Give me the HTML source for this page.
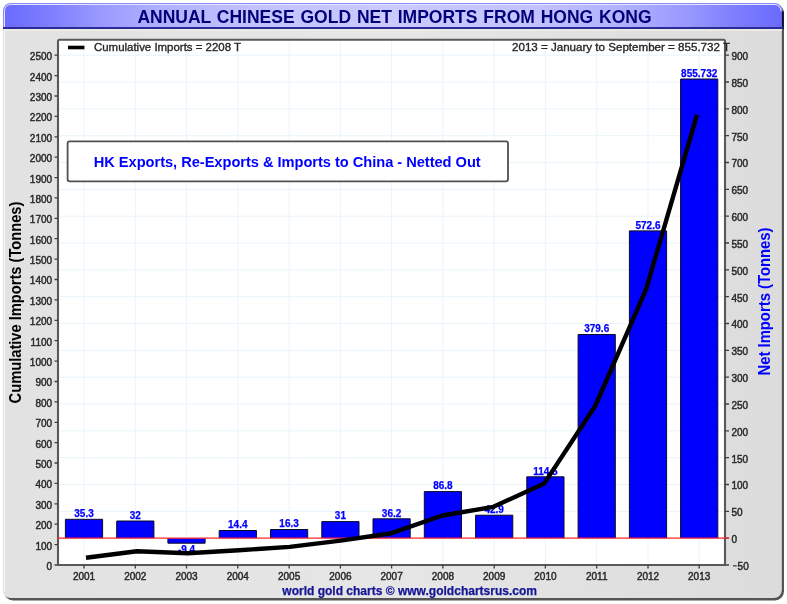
<!DOCTYPE html>
<html><head><meta charset="utf-8"><title>Annual Chinese Gold Net Imports From Hong Kong</title>
<style>html,body{margin:0;padding:0;background:#fff;}svg{display:block;will-change:transform;}text{font-family:"Liberation Sans",sans-serif;}</style></head><body>
<svg width="787" height="604" viewBox="0 0 787 604">
<defs>
<linearGradient id="hg" x1="0" y1="0" x2="1" y2="0">
<stop offset="0" stop-color="#6a6aff"/><stop offset="0.06" stop-color="#7e7eff"/><stop offset="0.12" stop-color="#9898ff"/><stop offset="0.2" stop-color="#b0b0ff"/><stop offset="0.32" stop-color="#c2c2ff"/><stop offset="0.5" stop-color="#cacaff"/><stop offset="0.68" stop-color="#c2c2ff"/><stop offset="0.8" stop-color="#b0b0ff"/><stop offset="0.88" stop-color="#9898ff"/><stop offset="0.94" stop-color="#7e7eff"/><stop offset="1" stop-color="#6a6aff"/>
</linearGradient>
<linearGradient id="bg" x1="0" y1="0" x2="1" y2="0">
<stop offset="0" stop-color="#e2e2e2"/><stop offset="0.5" stop-color="#e6e6e6"/><stop offset="1" stop-color="#dcdcdc"/>
</linearGradient>
<clipPath id="fr"><rect x="2.6" y="3" width="781.4" height="597" rx="9" ry="9"/></clipPath>
</defs>
<rect x="0" y="0" width="787" height="604" fill="#ffffff"/>
<rect x="4" y="4" width="780" height="596.5" rx="9" ry="9" fill="#555555"/>
<g clip-path="url(#fr)">
<rect x="2.6" y="3" width="779.2" height="595" rx="8" ry="8" fill="url(#bg)"/>
</g>
<path d="M3.5 28 V11.5 Q3.5 3.5 11.5 3.5 H774 Q782 3.5 782 11.5 V28 Z" fill="url(#hg)" stroke="#8a8aff" stroke-width="1"/>
<path d="M4.5 27 V11.5 Q4.5 4.5 11.5 4.5 H774 Q780.5 4.5 781 11" fill="none" stroke="#e4e4ff" stroke-width="1"/>
<path d="M782.8 11.5 V29" fill="none" stroke="#0c0c38" stroke-width="2"/>
<rect x="3" y="27" width="780" height="2" fill="#2a2a9a"/>
<rect x="4" y="29.2" width="778" height="1.8" fill="#ecece2"/>
<rect x="4" y="30" width="1.2" height="562" fill="#f6f6f6"/>
<text x="137.4" y="22.6" font-size="17.5" font-weight="bold" fill="#000078" word-spacing="1">ANNUAL CHINESE GOLD NET IMPORTS FROM HONG KONG</text>
<rect x="58" y="39.8" width="667" height="525.2" fill="#ffffff"/>
<path d="M58 565.0H725 M58 538.2H725 M58 511.4H725 M58 484.5H725 M58 457.7H725 M58 430.9H725 M58 404.0H725 M58 377.2H725 M58 350.4H725 M58 323.5H725 M58 296.7H725 M58 269.9H725 M58 243.0H725 M58 216.2H725 M58 189.4H725 M58 162.5H725 M58 135.7H725 M58 108.9H725 M58 82.0H725 M58 55.2H725 M84.0 39.8V565 M135.3 39.8V565 M186.5 39.8V565 M237.8 39.8V565 M289.1 39.8V565 M340.4 39.8V565 M391.6 39.8V565 M442.9 39.8V565 M494.2 39.8V565 M545.4 39.8V565 M596.7 39.8V565 M648.0 39.8V565 M699.2 39.8V565" stroke="#e9f4fb" stroke-width="1" fill="none"/>
<rect x="65.4" y="519.3" width="37.2" height="18.9" fill="#0000ff"/>
<path d="M65.4 538.2V519.3H102.6V538.2" fill="none" stroke="#0a0a28" stroke-width="1"/>
<rect x="116.7" y="521.0" width="37.2" height="17.2" fill="#0000ff"/>
<path d="M116.7 538.2V521.0H153.9V538.2" fill="none" stroke="#0a0a28" stroke-width="1"/>
<rect x="167.9" y="538.2" width="37.2" height="5.0" fill="#0000ff"/>
<path d="M167.9 538.2V543.2H205.1V538.2" fill="none" stroke="#0a0a28" stroke-width="1"/>
<rect x="219.2" y="530.5" width="37.2" height="7.7" fill="#0000ff"/>
<path d="M219.2 538.2V530.5H256.4V538.2" fill="none" stroke="#0a0a28" stroke-width="1"/>
<rect x="270.5" y="529.5" width="37.2" height="8.7" fill="#0000ff"/>
<path d="M270.5 538.2V529.5H307.7V538.2" fill="none" stroke="#0a0a28" stroke-width="1"/>
<rect x="321.8" y="521.6" width="37.2" height="16.6" fill="#0000ff"/>
<path d="M321.8 538.2V521.6H359.0V538.2" fill="none" stroke="#0a0a28" stroke-width="1"/>
<rect x="373.0" y="518.8" width="37.2" height="19.4" fill="#0000ff"/>
<path d="M373.0 538.2V518.8H410.2V538.2" fill="none" stroke="#0a0a28" stroke-width="1"/>
<rect x="424.3" y="491.6" width="37.2" height="46.6" fill="#0000ff"/>
<path d="M424.3 538.2V491.6H461.5V538.2" fill="none" stroke="#0a0a28" stroke-width="1"/>
<rect x="475.6" y="515.2" width="37.2" height="23.0" fill="#0000ff"/>
<path d="M475.6 538.2V515.2H512.8V538.2" fill="none" stroke="#0a0a28" stroke-width="1"/>
<rect x="526.8" y="476.8" width="37.2" height="61.4" fill="#0000ff"/>
<path d="M526.8 538.2V476.8H564.0V538.2" fill="none" stroke="#0a0a28" stroke-width="1"/>
<rect x="578.1" y="334.5" width="37.2" height="203.7" fill="#0000ff"/>
<path d="M578.1 538.2V334.5H615.3V538.2" fill="none" stroke="#0a0a28" stroke-width="1"/>
<rect x="629.4" y="230.9" width="37.2" height="307.3" fill="#0000ff"/>
<path d="M629.4 538.2V230.9H666.6V538.2" fill="none" stroke="#0a0a28" stroke-width="1"/>
<rect x="680.6" y="79.0" width="37.2" height="459.2" fill="#0000ff"/>
<path d="M680.6 538.2V79.0H717.8V538.2" fill="none" stroke="#0a0a28" stroke-width="1"/>
<path d="M58 538.2H725" stroke="#ff2828" stroke-width="1.3" fill="none"/>
<text x="84.0" y="517.1" font-size="10" font-weight="bold" fill="#0000ff" stroke="#0000ff" stroke-width="0.25" text-anchor="middle">35.3</text>
<text x="135.3" y="518.8" font-size="10" font-weight="bold" fill="#0000ff" stroke="#0000ff" stroke-width="0.25" text-anchor="middle">32</text>
<text x="186.5" y="553.0" font-size="10" font-weight="bold" fill="#0000ff" stroke="#0000ff" stroke-width="0.25" text-anchor="middle">-9.4</text>
<text x="237.8" y="528.3" font-size="10" font-weight="bold" fill="#0000ff" stroke="#0000ff" stroke-width="0.25" text-anchor="middle">14.4</text>
<text x="289.1" y="527.3" font-size="10" font-weight="bold" fill="#0000ff" stroke="#0000ff" stroke-width="0.25" text-anchor="middle">16.3</text>
<text x="340.4" y="519.4" font-size="10" font-weight="bold" fill="#0000ff" stroke="#0000ff" stroke-width="0.25" text-anchor="middle">31</text>
<text x="391.6" y="516.6" font-size="10" font-weight="bold" fill="#0000ff" stroke="#0000ff" stroke-width="0.25" text-anchor="middle">36.2</text>
<text x="442.9" y="489.4" font-size="10" font-weight="bold" fill="#0000ff" stroke="#0000ff" stroke-width="0.25" text-anchor="middle">86.8</text>
<text x="494.2" y="513.0" font-size="10" font-weight="bold" fill="#0000ff" stroke="#0000ff" stroke-width="0.25" text-anchor="middle">42.9</text>
<text x="545.4" y="474.6" font-size="10" font-weight="bold" fill="#0000ff" stroke="#0000ff" stroke-width="0.25" text-anchor="middle">114.5</text>
<text x="596.7" y="332.3" font-size="10" font-weight="bold" fill="#0000ff" stroke="#0000ff" stroke-width="0.25" text-anchor="middle">379.6</text>
<text x="648.0" y="228.7" font-size="10" font-weight="bold" fill="#0000ff" stroke="#0000ff" stroke-width="0.25" text-anchor="middle">572.6</text>
<text x="699.2" y="76.8" font-size="10" font-weight="bold" fill="#0000ff" stroke="#0000ff" stroke-width="0.25" text-anchor="middle">855.732</text>
<polyline points="86.0,557.8 136.9,551.3 187.8,553.2 238.8,550.3 289.7,546.9 340.6,540.6 391.5,533.2 442.4,515.5 493.4,506.8 544.3,483.4 595.2,406.0 646.1,289.3 697.0,114.8" fill="none" stroke="#000000" stroke-width="4.4" stroke-linejoin="round" stroke-linecap="butt"/>
<rect x="67.6" y="141.4" width="440.4" height="39.9" rx="2" ry="2" fill="#ffffff" stroke="#505050" stroke-width="1.8"/>
<text x="93.7" y="166.9" font-size="14.67" font-weight="bold" fill="#0000ff" textLength="387" lengthAdjust="spacing">HK Exports, Re-Exports &amp; Imports to China - Netted Out</text>
<rect x="58" y="39.8" width="667" height="525.2" fill="none" stroke="#595959" stroke-width="2.1" rx="1.5"/>
<rect x="68" y="45.7" width="16.4" height="3.6" fill="#000000"/>
<text x="94" y="51.1" font-size="11.5" fill="#262626" stroke="#262626" stroke-width="0.35" textLength="147" lengthAdjust="spacingAndGlyphs">Cumulative Imports = 2208 T</text>
<text x="512" y="51.1" font-size="11.5" fill="#262626" stroke="#262626" stroke-width="0.35" textLength="218" lengthAdjust="spacingAndGlyphs">2013 = January to September = 855.732 T</text>
<path d="M54.5 565.0H58 M54.5 544.6H58 M54.5 524.2H58 M54.5 503.8H58 M54.5 483.4H58 M54.5 463.0H58 M54.5 442.6H58 M54.5 422.3H58 M54.5 401.9H58 M54.5 381.5H58 M54.5 361.1H58 M54.5 340.7H58 M54.5 320.3H58 M54.5 299.9H58 M54.5 279.5H58 M54.5 259.1H58 M54.5 238.7H58 M54.5 218.3H58 M54.5 197.9H58 M54.5 177.6H58 M54.5 157.2H58 M54.5 136.8H58 M54.5 116.4H58 M54.5 96.0H58 M54.5 75.6H58 M54.5 55.2H58 M725 565.0H729 M725 538.2H729 M725 511.4H729 M725 484.5H729 M725 457.7H729 M725 430.9H729 M725 404.0H729 M725 377.2H729 M725 350.4H729 M725 323.5H729 M725 296.7H729 M725 269.9H729 M725 243.0H729 M725 216.2H729 M725 189.4H729 M725 162.5H729 M725 135.7H729 M725 108.9H729 M725 82.0H729 M725 55.2H729 M84.0 565V568.5 M135.3 565V568.5 M186.5 565V568.5 M237.8 565V568.5 M289.1 565V568.5 M340.4 565V568.5 M391.6 565V568.5 M442.9 565V568.5 M494.2 565V568.5 M545.4 565V568.5 M596.7 565V568.5 M648.0 565V568.5 M699.2 565V568.5" stroke="#404040" stroke-width="1.3" fill="none"/>
<path d="M57 538.2H59.5M723.5 538.2H729" stroke="#ff2828" stroke-width="1.3" fill="none"/>
<text x="52.1" y="569.9" font-size="10" fill="#2a2a2a" stroke="#2a2a2a" stroke-width="0.45" text-anchor="end">0</text>
<text x="52.1" y="549.5" font-size="10" fill="#2a2a2a" stroke="#2a2a2a" stroke-width="0.45" text-anchor="end">100</text>
<text x="52.1" y="529.1" font-size="10" fill="#2a2a2a" stroke="#2a2a2a" stroke-width="0.45" text-anchor="end">200</text>
<text x="52.1" y="508.7" font-size="10" fill="#2a2a2a" stroke="#2a2a2a" stroke-width="0.45" text-anchor="end">300</text>
<text x="52.1" y="488.3" font-size="10" fill="#2a2a2a" stroke="#2a2a2a" stroke-width="0.45" text-anchor="end">400</text>
<text x="52.1" y="467.9" font-size="10" fill="#2a2a2a" stroke="#2a2a2a" stroke-width="0.45" text-anchor="end">500</text>
<text x="52.1" y="447.5" font-size="10" fill="#2a2a2a" stroke="#2a2a2a" stroke-width="0.45" text-anchor="end">600</text>
<text x="52.1" y="427.2" font-size="10" fill="#2a2a2a" stroke="#2a2a2a" stroke-width="0.45" text-anchor="end">700</text>
<text x="52.1" y="406.8" font-size="10" fill="#2a2a2a" stroke="#2a2a2a" stroke-width="0.45" text-anchor="end">800</text>
<text x="52.1" y="386.4" font-size="10" fill="#2a2a2a" stroke="#2a2a2a" stroke-width="0.45" text-anchor="end">900</text>
<text x="52.1" y="366.0" font-size="10" fill="#2a2a2a" stroke="#2a2a2a" stroke-width="0.45" text-anchor="end">1000</text>
<text x="52.1" y="345.6" font-size="10" fill="#2a2a2a" stroke="#2a2a2a" stroke-width="0.45" text-anchor="end">1100</text>
<text x="52.1" y="325.2" font-size="10" fill="#2a2a2a" stroke="#2a2a2a" stroke-width="0.45" text-anchor="end">1200</text>
<text x="52.1" y="304.8" font-size="10" fill="#2a2a2a" stroke="#2a2a2a" stroke-width="0.45" text-anchor="end">1300</text>
<text x="52.1" y="284.4" font-size="10" fill="#2a2a2a" stroke="#2a2a2a" stroke-width="0.45" text-anchor="end">1400</text>
<text x="52.1" y="264.0" font-size="10" fill="#2a2a2a" stroke="#2a2a2a" stroke-width="0.45" text-anchor="end">1500</text>
<text x="52.1" y="243.6" font-size="10" fill="#2a2a2a" stroke="#2a2a2a" stroke-width="0.45" text-anchor="end">1600</text>
<text x="52.1" y="223.2" font-size="10" fill="#2a2a2a" stroke="#2a2a2a" stroke-width="0.45" text-anchor="end">1700</text>
<text x="52.1" y="202.8" font-size="10" fill="#2a2a2a" stroke="#2a2a2a" stroke-width="0.45" text-anchor="end">1800</text>
<text x="52.1" y="182.5" font-size="10" fill="#2a2a2a" stroke="#2a2a2a" stroke-width="0.45" text-anchor="end">1900</text>
<text x="52.1" y="162.1" font-size="10" fill="#2a2a2a" stroke="#2a2a2a" stroke-width="0.45" text-anchor="end">2000</text>
<text x="52.1" y="141.7" font-size="10" fill="#2a2a2a" stroke="#2a2a2a" stroke-width="0.45" text-anchor="end">2100</text>
<text x="52.1" y="121.3" font-size="10" fill="#2a2a2a" stroke="#2a2a2a" stroke-width="0.45" text-anchor="end">2200</text>
<text x="52.1" y="100.9" font-size="10" fill="#2a2a2a" stroke="#2a2a2a" stroke-width="0.45" text-anchor="end">2300</text>
<text x="52.1" y="80.5" font-size="10" fill="#2a2a2a" stroke="#2a2a2a" stroke-width="0.45" text-anchor="end">2400</text>
<text x="52.1" y="60.1" font-size="10" fill="#2a2a2a" stroke="#2a2a2a" stroke-width="0.45" text-anchor="end">2500</text>
<rect x="733" y="565.3" width="3.8" height="1.1" fill="#262626"/>
<text x="737.6" y="569.9" font-size="10" fill="#2a2a2a" stroke="#2a2a2a" stroke-width="0.45">50</text>
<text x="731.5" y="543.1" font-size="10" fill="#2a2a2a" stroke="#2a2a2a" stroke-width="0.45">0</text>
<text x="731.5" y="516.3" font-size="10" fill="#2a2a2a" stroke="#2a2a2a" stroke-width="0.45">50</text>
<text x="731.5" y="489.4" font-size="10" fill="#2a2a2a" stroke="#2a2a2a" stroke-width="0.45">100</text>
<text x="731.5" y="462.6" font-size="10" fill="#2a2a2a" stroke="#2a2a2a" stroke-width="0.45">150</text>
<text x="731.5" y="435.8" font-size="10" fill="#2a2a2a" stroke="#2a2a2a" stroke-width="0.45">200</text>
<text x="731.5" y="408.9" font-size="10" fill="#2a2a2a" stroke="#2a2a2a" stroke-width="0.45">250</text>
<text x="731.5" y="382.1" font-size="10" fill="#2a2a2a" stroke="#2a2a2a" stroke-width="0.45">300</text>
<text x="731.5" y="355.3" font-size="10" fill="#2a2a2a" stroke="#2a2a2a" stroke-width="0.45">350</text>
<text x="731.5" y="328.4" font-size="10" fill="#2a2a2a" stroke="#2a2a2a" stroke-width="0.45">400</text>
<text x="731.5" y="301.6" font-size="10" fill="#2a2a2a" stroke="#2a2a2a" stroke-width="0.45">450</text>
<text x="731.5" y="274.8" font-size="10" fill="#2a2a2a" stroke="#2a2a2a" stroke-width="0.45">500</text>
<text x="731.5" y="247.9" font-size="10" fill="#2a2a2a" stroke="#2a2a2a" stroke-width="0.45">550</text>
<text x="731.5" y="221.1" font-size="10" fill="#2a2a2a" stroke="#2a2a2a" stroke-width="0.45">600</text>
<text x="731.5" y="194.3" font-size="10" fill="#2a2a2a" stroke="#2a2a2a" stroke-width="0.45">650</text>
<text x="731.5" y="167.4" font-size="10" fill="#2a2a2a" stroke="#2a2a2a" stroke-width="0.45">700</text>
<text x="731.5" y="140.6" font-size="10" fill="#2a2a2a" stroke="#2a2a2a" stroke-width="0.45">750</text>
<text x="731.5" y="113.8" font-size="10" fill="#2a2a2a" stroke="#2a2a2a" stroke-width="0.45">800</text>
<text x="731.5" y="86.9" font-size="10" fill="#2a2a2a" stroke="#2a2a2a" stroke-width="0.45">850</text>
<text x="731.5" y="60.1" font-size="10" fill="#2a2a2a" stroke="#2a2a2a" stroke-width="0.45">900</text>
<text x="84.0" y="580" font-size="10" fill="#2a2a2a" stroke="#2a2a2a" stroke-width="0.45" text-anchor="middle">2001</text>
<text x="135.3" y="580" font-size="10" fill="#2a2a2a" stroke="#2a2a2a" stroke-width="0.45" text-anchor="middle">2002</text>
<text x="186.5" y="580" font-size="10" fill="#2a2a2a" stroke="#2a2a2a" stroke-width="0.45" text-anchor="middle">2003</text>
<text x="237.8" y="580" font-size="10" fill="#2a2a2a" stroke="#2a2a2a" stroke-width="0.45" text-anchor="middle">2004</text>
<text x="289.1" y="580" font-size="10" fill="#2a2a2a" stroke="#2a2a2a" stroke-width="0.45" text-anchor="middle">2005</text>
<text x="340.4" y="580" font-size="10" fill="#2a2a2a" stroke="#2a2a2a" stroke-width="0.45" text-anchor="middle">2006</text>
<text x="391.6" y="580" font-size="10" fill="#2a2a2a" stroke="#2a2a2a" stroke-width="0.45" text-anchor="middle">2007</text>
<text x="442.9" y="580" font-size="10" fill="#2a2a2a" stroke="#2a2a2a" stroke-width="0.45" text-anchor="middle">2008</text>
<text x="494.2" y="580" font-size="10" fill="#2a2a2a" stroke="#2a2a2a" stroke-width="0.45" text-anchor="middle">2009</text>
<text x="545.4" y="580" font-size="10" fill="#2a2a2a" stroke="#2a2a2a" stroke-width="0.45" text-anchor="middle">2010</text>
<text x="596.7" y="580" font-size="10" fill="#2a2a2a" stroke="#2a2a2a" stroke-width="0.45" text-anchor="middle">2011</text>
<text x="648.0" y="580" font-size="10" fill="#2a2a2a" stroke="#2a2a2a" stroke-width="0.45" text-anchor="middle">2012</text>
<text x="699.2" y="580" font-size="10" fill="#2a2a2a" stroke="#2a2a2a" stroke-width="0.45" text-anchor="middle">2013</text>
<text transform="translate(20.8,403.4) rotate(-90)" font-size="16" font-weight="bold" fill="#000000" textLength="201.8" lengthAdjust="spacingAndGlyphs">Cumulative Imports (Tonnes)</text>
<text transform="translate(769.9,375.5) rotate(-90)" font-size="16" font-weight="bold" fill="#0000ff" textLength="148" lengthAdjust="spacingAndGlyphs">Net Imports (Tonnes)</text>
<text x="282.3" y="594.8" font-size="12" font-weight="bold" fill="#141496" stroke="#141496" stroke-width="0.25" textLength="254.7" lengthAdjust="spacingAndGlyphs">world gold charts © www.goldchartsrus.com</text>
</svg></body></html>
